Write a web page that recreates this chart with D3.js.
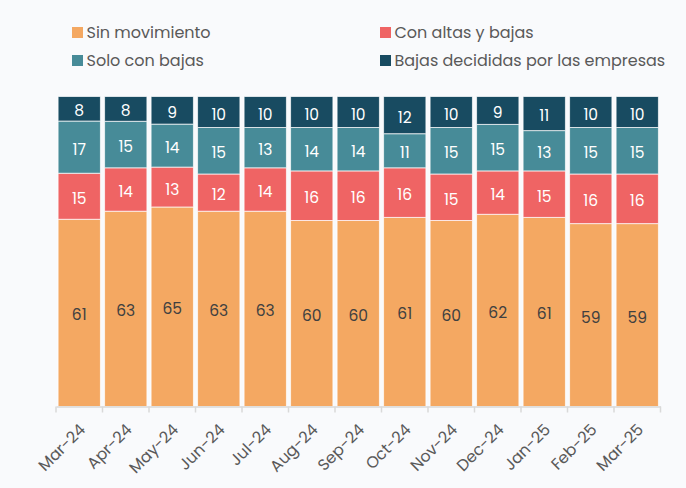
<!DOCTYPE html>
<html>
<head>
<meta charset="utf-8">
<script src="https://cdn.jsdelivr.net/npm/d3@7"></script>
<style>
  body { margin: 0; background: #f9fafc; }
  #chart { width: 686px; height: 488px; }
  text { font-family: Poppins, Inter, "Open Sans", sans-serif; }
</style>
</head>
<body>
<div id="chart"></div>
<script>
var months = ["Mar-24","Apr-24","May-24","Jun-24","Jul-24","Aug-24","Sep-24","Oct-24","Nov-24","Dec-24","Jan-25","Feb-25","Mar-25"];
var series = ["Sin movimiento","Con altas y bajas","Solo con bajas","Bajas decididas por las empresas"];
var sinMovimiento = [61,63,65,63,63,60,60,61,60,62,61,59,59];
var conAltasBajas = [15,14,13,12,14,16,16,16,15,14,15,16,16];
var soloBajas     = [17,15,14,15,13,14,14,11,15,15,13,15,15];
var bajasEmpresas = [8,8,9,10,10,10,10,12,10,9,11,10,10];
var colors = ["#f4a862","#ef6464","#478b98","#184b61"];
var labelColors = ["#404040","#ffffff","#ffffff","#ffffff"];

var W = 686, H = 488;
var margin = {t:96.5, l:56, r:25.5, b:81.5};

var svg = d3.select("#chart").append("svg")
    .attr("width", W).attr("height", H);

var rows = months.map(function(m, i){
    return {month: m, "Sin movimiento": sinMovimiento[i], "Con altas y bajas": conAltasBajas[i],
        "Solo con bajas": soloBajas[i], "Bajas decididas por las empresas": bajasEmpresas[i]};
});

var stack = d3.stack().keys(series).offset(d3.stackOffsetExpand);
var stacked = stack(rows);

var x = d3.scaleBand().domain(months)
    .range([margin.l, W - margin.r])
    .paddingInner(0.09).paddingOuter(0.045);
var y = d3.scaleLinear().domain([0,1]).range([H - margin.b, margin.t]);

var layers = svg.selectAll(".layer")
    .data(stacked).enter().append("g")
    .attr("class","layer")
    .attr("fill", function(d, i){ return colors[i]; });

layers.selectAll("rect")
    .data(function(d){ return d; })
    .enter().append("rect")
    .attr("x", function(d){ return x(d.data.month); })
    .attr("width", x.bandwidth())
    .attr("y", function(d){ return y(d[1]); })
    .attr("height", function(d){ return y(d[0]) - y(d[1]); })
    .attr("stroke", "#ffffff")
    .attr("stroke-opacity", 0.7)
    .attr("stroke-width", 1);

layers.each(function(layer, i){
    d3.select(this).selectAll("text")
        .data(layer).enter().append("text")
        .attr("x", function(d){ return x(d.data.month) + x.bandwidth()/2; })
        .attr("y", function(d){ return (y(d[0]) + y(d[1]))/2 + 2; })
        .attr("text-anchor","middle")
        .attr("dominant-baseline","central")
        .attr("fill", labelColors[i])
        .style("font-size","15.5px")
        .text(function(d){ return d.data[layer.key]; });
});

// x axis
var base = H - margin.b;
var ax = svg.append("g")
    .attr("transform","translate(0," + base + ")")
    .call(d3.axisBottom(x).tickSize(0).tickSizeOuter(0));
ax.select(".domain").attr("stroke","#d9d9d9").attr("stroke-width",1.5);
ax.selectAll(".tick text")
    .attr("fill","#595959")
    .style("font-size","16px")
    .attr("text-anchor","end")
    .attr("dy", null)
    .attr("transform","translate(5,22) rotate(-45)");

var step = x.step(), gap = step * x.paddingInner();
var bounds = months.map(function(m){ return x(m) - gap/2; });
bounds.push(x(months[months.length-1]) + x.bandwidth() + gap/2);
svg.append("g").selectAll("line")
    .data(bounds).enter().append("line")
    .attr("x1", function(d){ return d; }).attr("x2", function(d){ return d; })
    .attr("y1", base).attr("y2", base + 6)
    .attr("stroke","#d9d9d9").attr("stroke-width",1.5);

// legend
var legendPos = [[72,38],[380,38],[72,66],[380,66]];
var order = [0,1,2,3];
var lg = svg.append("g").selectAll("g")
    .data(order).enter().append("g")
    .attr("transform", function(d){ return "translate(" + legendPos[d][0] + "," + legendPos[d][1] + ")"; });
lg.append("rect")
    .attr("x",0).attr("y",-11).attr("width",11).attr("height",11)
    .attr("fill", function(d){ return colors[d]; });
lg.append("text")
    .attr("x",14.5).attr("y",0)
    .attr("fill","#595959")
    .style("font-size","16px")
    .text(function(d){ return series[d]; });
</script>
</body>
</html>
